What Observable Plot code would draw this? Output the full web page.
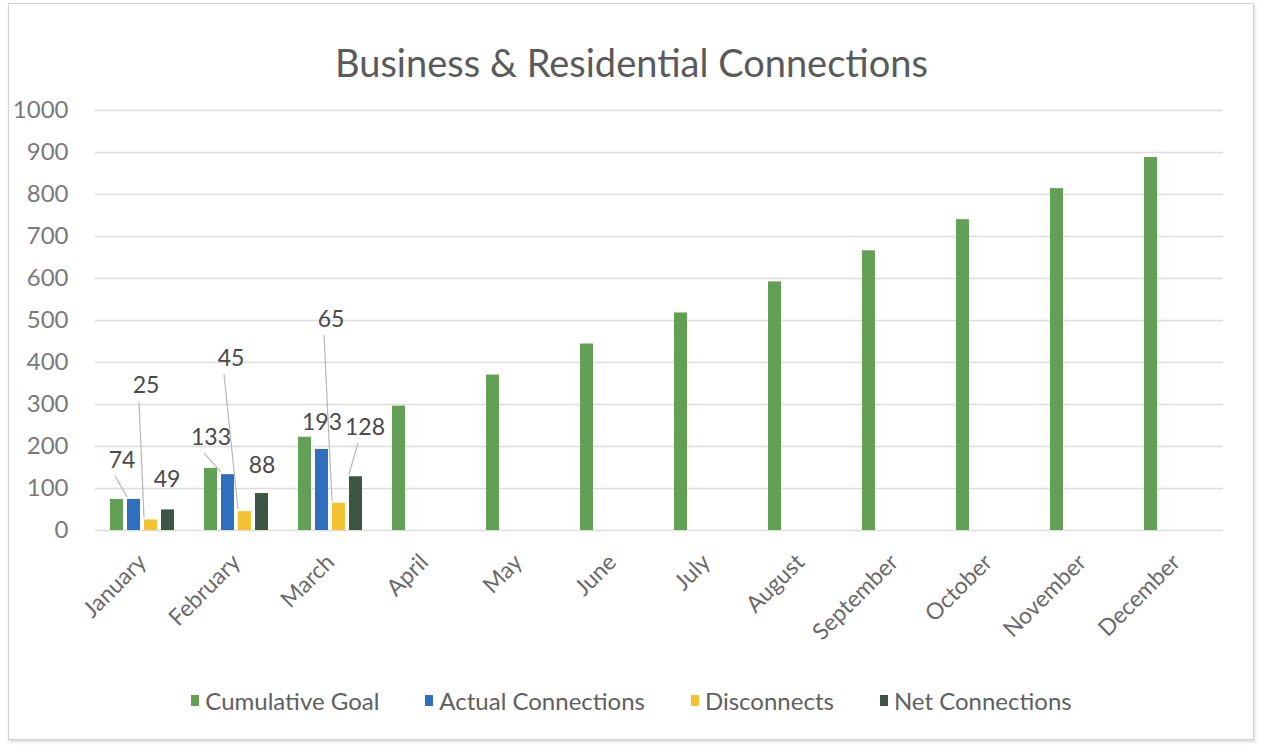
<!DOCTYPE html>
<html><head><meta charset="utf-8">
<script src="https://cdn.jsdelivr.net/npm/d3@7"></script>
<script src="https://cdn.jsdelivr.net/npm/@observablehq/plot@0.6"></script>
<style>
html,body{margin:0;padding:0;background:#fff;width:1263px;height:747px;overflow:hidden;font-family:Lato,"Open Sans",sans-serif;}
#frame{position:absolute;left:8px;top:3px;width:1244px;height:735px;border:1px solid #d2d2d2;box-shadow:1px 2px 3px rgba(0,0,0,0.15);}
#title{position:absolute;left:0;top:38px;width:1263px;text-align:center;font-size:38px;color:#5a5a5a;line-height:48px;}
#chart{position:absolute;left:0;top:95px;}
#legend{position:absolute;left:0;top:686px;width:1263px;display:flex;justify-content:center;gap:46px;font-size:24px;color:#606060;}
.item{display:flex;align-items:center;}
.sw{width:8px;height:11px;margin-right:6px;}
</style></head><body>
<div id="frame"></div>
<div id="title">Business &amp; Residential Connections</div>
<div id="chart"></div>
<div id="legend"></div>
<script>
const months = ["January","February","March","April","May","June","July","August","September","October","November","December"];
const seriesNames = ["Cumulative Goal","Actual Connections","Disconnects","Net Connections"];
const cumulativeGoal = [74,148,222,296,370,444,518,592,666,740,814,888];
const actualConnections = [74,133,193];
const disconnects = [25,45,65];
const netConnections = [49,88,128];
const yTicks = [0,100,200,300,400,500,600,700,800,900,1000];
const colors = ["#62a056","#2f6fbd","#f5c232","#3e5545"];

const seriesArrays = [cumulativeGoal, actualConnections, disconnects, netConnections];
const rows = [];
seriesNames.forEach((s, k) => seriesArrays[k].forEach((v, i) => rows.push({month: months[i], series: s, value: v})));

// label placement (px, relative to bar centre / bar top), like Excel's dragged labels
const key = d => d.month + "|" + d.series;
const nudge = {
  "January|Actual Connections": [-12, -39, true],
  "January|Disconnects": [-5, -134, true],
  "January|Net Connections": [-1, -30, false],
  "February|Actual Connections": [-17, -37, true],
  "February|Disconnects": [-14, -153, true],
  "February|Net Connections": [0, -28, false],
  "March|Actual Connections": [0, -27, false],
  "March|Disconnects": [-8, -184, true],
  "March|Net Connections": [9, -49, true]
};
const labelled = rows.filter(d => d.series !== "Cumulative Goal");
const leaders = labelled.filter(d => nudge[key(d)][2]);

const labelMarks = labelled.map(d => Plot.text([d], {
  fx: "month", x: "series", y: "value", text: d => String(d.value),
  dx: nudge[key(d)][0], dy: nudge[key(d)][1], fontSize: 23, fill: "#4a4a4a"
}));

const leaderMark = Plot.dot(leaders, {
  fx: "month", x: "series", y: "value", r: 0,
  render(index, scales, values) {
    const g = d3.create("svg:g").attr("stroke", "#b8b8b8").attr("fill", "none").attr("stroke-width", 1.2);
    for (const i of index) {
      const [dx, dy] = nudge[key(leaders[i])];
      const x = values.x[i], y = values.y[i];
      g.append("path").attr("d", `M${x},${y - 2}L${x + dx},${y + dy + 16}`);
    }
    return g.node();
  }
});

const chart = Plot.plot({
  width: 1263, height: 585,
  marginLeft: 90, marginRight: 35, marginTop: 15, marginBottom: 150,
  style: {fontFamily: "Lato, 'Open Sans', sans-serif", background: "transparent"},
  fx: {domain: months, padding: 0, label: null},
  x: {domain: seriesNames, paddingInner: 0.25, paddingOuter: 0.865, axis: null},
  y: {domain: [0, 1000], label: null},
  color: {domain: seriesNames, range: colors},
  marks: [
    Plot.gridY(yTicks, {stroke: "#dcdcdc", strokeOpacity: 1, strokeWidth: 1.3}),
    Plot.axisY(yTicks, {tickSize: 0, tickPadding: 27, fontSize: 24, fill: "#7a7a7a", label: null, tickFormat: d => String(d)}),
    Plot.axisFx({anchor: "bottom", tickRotate: -45, tickSize: 0, tickPadding: 28, fontSize: 23, fill: "#6a6a6a", label: null}),
    Plot.barY(rows, {fx: "month", x: "series", y: "value", fill: "series"}),
    leaderMark,
    ...labelMarks
  ]
});
document.getElementById("chart").appendChild(chart);

const legend = document.getElementById("legend");
seriesNames.forEach((s, k) => {
  const it = document.createElement("div"); it.className = "item";
  const sw = document.createElement("span"); sw.className = "sw"; sw.style.background = colors[k];
  const tx = document.createElement("span"); tx.textContent = s;
  it.appendChild(sw); it.appendChild(tx); legend.appendChild(it);
});
</script>
</body></html>
